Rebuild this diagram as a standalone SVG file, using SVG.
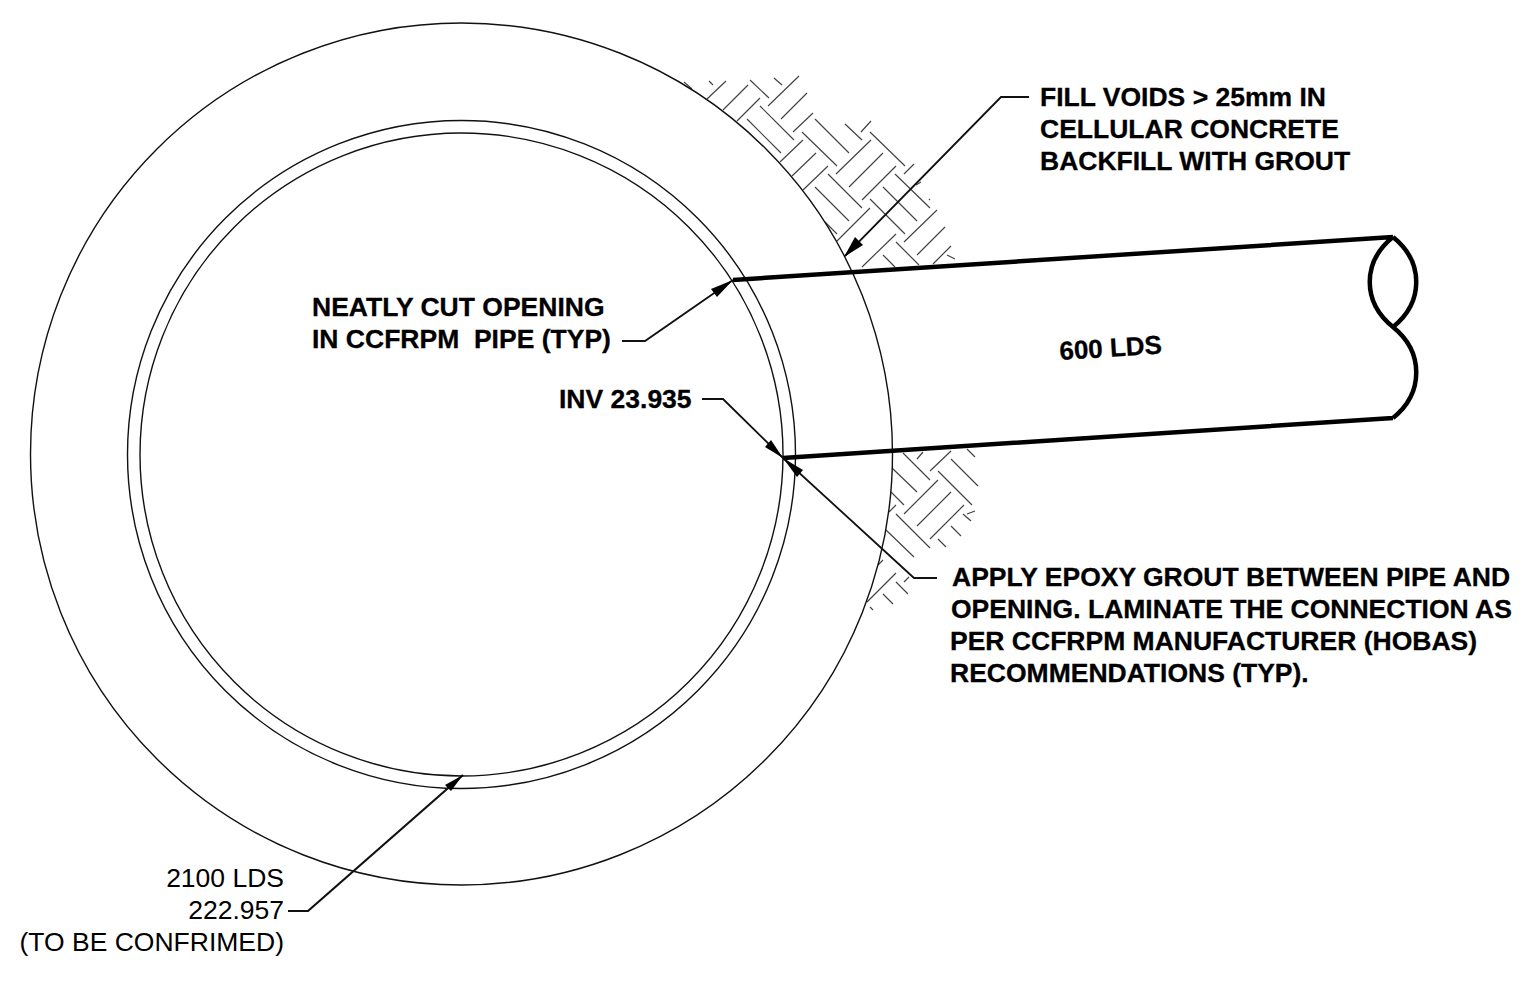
<svg xmlns="http://www.w3.org/2000/svg" width="1529" height="989" viewBox="0 0 1529 989">
<style>
text{font-family:"Liberation Sans",Arial,sans-serif;font-size:26.5px;fill:#000}
.b{font-weight:bold;stroke:#000;stroke-width:.3}
.c{fill:none;stroke:#111;stroke-width:1.4}
.h{fill:none;stroke:#444;stroke-width:1.2}
.l{fill:none;stroke:#111;stroke-width:1.8}
.p{fill:none;stroke:#000;stroke-width:4.5;stroke-linejoin:round}
.a{fill:#000;stroke:none}
</style>
<rect width="1529" height="989" fill="#fff"/>
<g id="hatch" class="h">
<path d="M684 82L692 89M709 81L713 85M707 99L726 81M723 110L748 85M737 121L760 98M750 80L769 98M774 78L782 85M768 106L799 76M781 119L807 93M793 132L813 113M760 106L794 140M747 119L781 153M780 162L803 140M792 176L816 153M803 190L828 166M802 132L837 166M815 119L849 153M845 124L862 140M861 132L871 121M870 132L905 166M836 174L871 140M849 187L883 153M862 200L896 166M904 174L914 164M828 174L862 208M815 187L849 221M895 174L930 208M883 187L917 221M870 199L905 234M825 222L837 234M837 241L870 208M904 242L937 210M917 255L945 227M862 267L896 234M883 255L895 267M896 242L919 265M933 264L951 246M947 255L955 259M916 185L921 182M929 199L930 200"/>
<path d="M903 453L930 480M917 459L923 452M930 471L951 451M951 459L978 486M967 449L975 457M892 468L917 492M938 471L972 505M904 514L938 480M917 526L951 492M930 539L964 505M891 492L904 505M889 512L896 505M896 514L930 548M963 514L971 521M967 514L975 511M951 526L961 536M938 539L946 547M886 530L914 557M878 565L883 560M867 602L896 573M896 582L908 594M904 582L909 577M883 594L893 604M870 607L873 610"/>
</g>
<g id="pipe-2100">
<circle class="c" cx="461.5" cy="454" r="431"/>
<circle class="c" cx="461.5" cy="454.5" r="334"/>
<circle class="c" cx="461.5" cy="454.5" r="321.5"/>
</g>
<g id="pipe-600">
<path class="p" d="M733 280L1393 237M783 458L1393 418M1393 237C1362 262 1362 302 1393 327C1424 302 1424 262 1393 237M1393 327C1424 352 1424 393 1393 418"/>
</g>
<g id="connectors">
<path class="l" d="M1029 97H1001L845 256"/>
<path class="a" d="M844 257L855 237L863 245Z"/>
<path class="l" d="M622 341H645L733 280"/>
<path class="a" d="M733 280L717 297L711 289Z"/>
<path class="l" d="M702 399H723L783 458"/>
<path class="a" d="M783 458L765 447L771 440Z"/>
<path class="l" d="M937 578H914L783 458"/>
<path class="a" d="M783 458L803 470L797 477Z"/>
<path class="l" style="stroke-width:2.2" d="M288 911H308L463 775"/>
<path class="a" d="M463 775L451 791L445 785Z"/>
</g>
<g id="labels">
<text class="b" x="1040" y="106">FILL VOIDS &gt; 25mm IN</text>
<text class="b" x="1040" y="138">CELLULAR CONCRETE</text>
<text class="b" x="1040" y="170">BACKFILL WITH GROUT</text>
<text class="b" x="312" y="316">NEATLY CUT OPENING</text>
<text class="b" x="312" y="348" xml:space="preserve">IN CCFRPM  PIPE (TYP)</text>
<text class="b" x="559" y="408">INV 23.935</text>
<text class="b" style="font-size:26px" transform="translate(1060 360) rotate(-3.7)">600 LDS</text>
<text class="b" x="952" y="586">APPLY EPOXY GROUT BETWEEN PIPE AND</text>
<text class="b" x="951" y="618">OPENING. LAMINATE THE CONNECTION AS</text>
<text class="b" x="950" y="650">PER CCFRPM MANUFACTURER (HOBAS)</text>
<text class="b" x="950" y="682">RECOMMENDATIONS (TYP).</text>
<text x="284" y="887" text-anchor="end">2100 LDS</text>
<text x="284" y="919" text-anchor="end">222.957</text>
<text x="284" y="951" text-anchor="end">(TO BE CONFRIMED)</text>
</g>
</svg>
